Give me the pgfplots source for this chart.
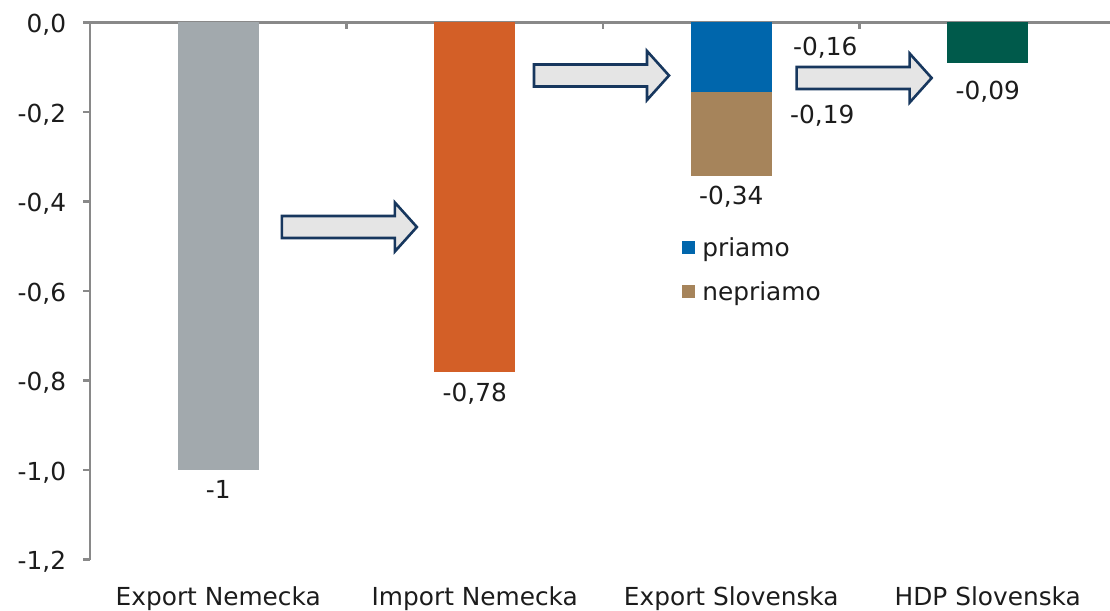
\documentclass[border=0pt]{standalone}
\usepackage{pgfplots}
\pgfplotsset{compat=1.18}
\usepackage{fontspec}
\setmainfont{DejaVu Sans}

\definecolor{cgray}{HTML}{A2A9AD}
\definecolor{corange}{HTML}{D35F27}
\definecolor{cblue}{HTML}{0066AC}
\definecolor{cbrown}{HTML}{A6845B}
\definecolor{cgreen}{HTML}{005A4B}
\definecolor{axisgray}{HTML}{898989}
\definecolor{txt}{HTML}{1C1C1C}
\definecolor{arrfill}{HTML}{E5E5E5}
\definecolor{arrline}{HTML}{17375E}

\tikzset{
  axisline/.style={draw=axisgray, line width=1.1bp},
  flow/.style={fill=arrfill, draw=arrline, line width=1.3bp, line join=miter},
  val/.style={anchor=base, inner sep=0pt, text=txt, font=\fontsize{12.4bp}{14bp}\selectfont},
}
% block arrow: starts at the middle of its left end
\newcommand{\flowarrow}[2]{%
  \draw[flow] (axis cs:#1,#2) ++(0bp,5.5bp) -- ++(56.5bp,0bp) -- ++(0bp,6.75bp)
     -- ++(11bp,-12.25bp) -- ++(-11bp,-12.25bp) -- ++(0bp,6.75bp) -- ++(-56.5bp,0bp) -- cycle;}

\begin{document}
\begin{tikzpicture}
\begin{axis}[
  scale only axis, width=513bp, height=268.5bp,
  xmin=-0.5, xmax=3.5, ymin=-1.2, ymax=0,
  clip=false,
  ybar stacked, bar width=40.5bp,
  axis line style={draw=none},
  font=\fontsize{12.4bp}{14bp}\selectfont,
  tick label style={text=txt},
  xtick={0,1,2,3},
  xticklabels={Export Nemecka, Import Nemecka, Export Slovenska, HDP Slovenska},
  xtick style={draw=none},
  xtick pos=left, xticklabel pos=left,
  xticklabel style={anchor=north, inner sep=0pt, text height=9.3bp, text depth=2.6bp, yshift=-10bp},
  ytick={-1.2,-1,-0.8,-0.6,-0.4,-0.2,0},
  ytick pos=left, tick align=outside,
  major tick length=3.5bp,
  ytick style={draw=axisgray, line width=1.1bp},
  yticklabel style={anchor=base east, inner sep=0pt, yshift=-5bp, xshift=-8.25bp,
    /pgf/number format/.cd, use comma, fixed, fixed zerofill, precision=1, assume math mode=true},
  legend style={draw=none, fill=none, inner sep=0pt, row sep=10.2bp, column sep=3.5bp,
    at={(axis cs:1.808,-0.4796)}, anchor=north west,
    nodes={inner sep=0pt, text height=9.3bp, text depth=2.5bp, text=txt}},
  legend cell align=left,
]
% two parts of the stacked bar go first so they take the legend entries
\addplot[fill=cblue, draw=none,
  legend image code/.code={\fill[cblue] (0bp,-2.5bp) rectangle (6.5bp,4bp);}]
  coordinates {(0,0) (1,0) (2,-0.155) (3,0)};
\addlegendentry{priamo}
\addplot[fill=cbrown, draw=none,
  legend image code/.code={\fill[cbrown] (0bp,-2.5bp) rectangle (6.5bp,4bp);}]
  coordinates {(0,0) (1,0) (2,-0.188) (3,0)};
\addlegendentry{nepriamo}
\addplot[fill=cgray, draw=none] coordinates {(0,-1) (1,0) (2,0) (3,0)};
\addplot[fill=corange, draw=none] coordinates {(0,0) (1,-0.78) (2,0) (3,0)};
\addplot[fill=cgreen, draw=none] coordinates {(0,0) (1,0) (2,0) (3,-0.09)};

% axis lines: category axis along y=0 at the top
\draw[axisline] (axis cs:-0.5,0) ++(-3.5bp,0bp) -- (axis cs:3.5,0);
\draw[axisline] (axis cs:-0.5,0) -- (axis cs:-0.5,-1.2);
\pgfplotsinvokeforeach{0.5,1.5,2.5}{\draw[axisline] (axis cs:#1,0) -- ++(0bp,-3.5bp);}

% value labels
\node[val, yshift=-14bp] at (axis cs:0,-1) {-1};
\node[val, yshift=-15bp] at (axis cs:1,-0.78) {-0,78};
\node[val, yshift=-14.5bp] at (axis cs:2,-0.343) {-0,34};
\node[val, xshift=47bp, yshift=0.75bp] at (axis cs:2,-0.0775) {-0,16};
\node[val, xshift=45.5bp, yshift=5.3bp] at (axis cs:2,-0.249) {-0,19};
\node[val, yshift=-18.25bp] at (axis cs:3,-0.09) {-0,09};

% flow arrows between the stages
\flowarrow{0.248}{-0.457}
\flowarrow{1.231}{-0.1185}
\flowarrow{2.255}{-0.124}

\coordinate (bbA) at (rel axis cs:-0.08772,-0.0959);
\coordinate (bbB) at (rel axis cs:0.99415,1.0419);
\end{axis}
\pgfresetboundingbox
\path[use as bounding box] (bbA) rectangle (bbB);
\end{tikzpicture}
\end{document}
